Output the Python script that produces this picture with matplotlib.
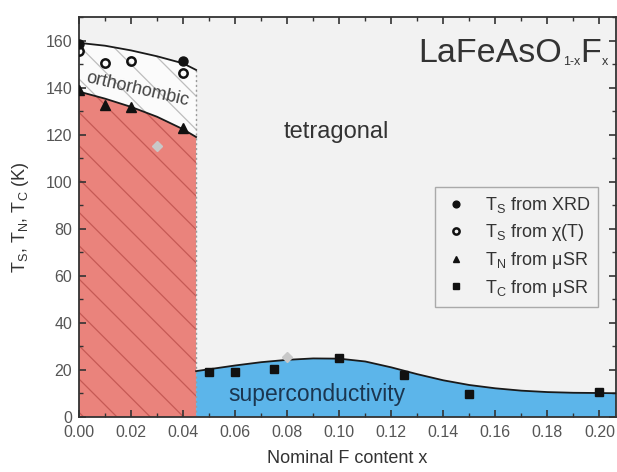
import matplotlib
matplotlib.use("Agg")
import matplotlib.pyplot as plt
from matplotlib.ticker import MultipleLocator, FormatStrFormatter

plt.rcParams['font.family'] = ['Liberation Sans', 'DejaVu Sans']
plt.rcParams['mathtext.fontset'] = 'custom'
plt.rcParams['mathtext.rm'] = 'Liberation Sans'
plt.rcParams['mathtext.it'] = 'Liberation Sans'
plt.rcParams['hatch.linewidth'] = 0.9

# ---- data ----
ts_xrd_x = [0.0, 0.04]
ts_xrd_y = [158.6, 151.5]
ts_chi_x = [0.0, 0.01, 0.02, 0.04]
ts_chi_y = [155.4, 150.5, 151.2, 146.0]
tn_x = [0.0, 0.01, 0.02, 0.04]
tn_y = [138.9, 132.8, 131.8, 122.9]
tc_x = [0.05, 0.06, 0.075, 0.10, 0.125, 0.15, 0.20]
tc_y = [19.3, 19.3, 20.3, 25.1, 17.9, 9.8, 10.8]
gray_x = [0.03, 0.08]
gray_y = [115.0, 25.7]

# guide curves
ts_curve_x = [0.0, 0.01, 0.02, 0.03, 0.04, 0.045]
ts_curve_y = [159.0, 157.8, 155.8, 153.3, 150.3, 147.5]
tn_curve_x = [0.0, 0.01, 0.02, 0.03, 0.04, 0.045]
tn_curve_y = [138.3, 135.3, 131.8, 127.6, 122.3, 119.0]
tc_curve_x = [0.045, 0.05, 0.06, 0.07, 0.08, 0.09, 0.10, 0.11, 0.12, 0.13, 0.14,
              0.15, 0.16, 0.17, 0.18, 0.19, 0.20, 0.2065]
tc_curve_y = [19.5, 20.3, 21.9, 23.3, 24.3, 24.9, 24.8, 23.6, 21.1, 18.2, 15.6,
              13.6, 12.2, 11.2, 10.6, 10.3, 10.2, 10.1]

x_boundary = 0.045

fig = plt.figure(figsize=(6.17, 4.72), dpi=100)
ax = fig.add_axes([0.128, 0.1165, 0.871, 0.8475])
ax.set_facecolor('#f2f2f2')

# red AFM region
ax.fill_between(tn_curve_x, 0, tn_curve_y, facecolor='#ea837c', edgecolor='#c55a55',
                hatch='\\', linewidth=0, zorder=1)
# orthorhombic region
ax.fill_between(ts_curve_x, tn_curve_y, ts_curve_y, facecolor='#fbfbfb', edgecolor='#bdbdbd',
                hatch='\\', linewidth=0, zorder=1)
# superconducting region
ax.fill_between(tc_curve_x, 0, tc_curve_y, facecolor='#5cb5ea', edgecolor='none',
                linewidth=0, zorder=1)

ax.plot([x_boundary, x_boundary], [0, ts_curve_y[-1]], ls=(0, (1.5, 2)), color='#9a9a9a', lw=1.0, zorder=2)

ax.plot(ts_curve_x, ts_curve_y, color='#1a1a1a', lw=1.3, zorder=3)
ax.plot(tn_curve_x, tn_curve_y, color='#1a1a1a', lw=1.3, zorder=3)
ax.plot(tc_curve_x, tc_curve_y, color='#1a1a1a', lw=1.3, zorder=3)

ax.plot(ts_xrd_x, ts_xrd_y, 'o', color='#111111', ms=6.5, zorder=5, label=r'T$_\mathregular{S}$ from XRD')
ax.plot(ts_chi_x, ts_chi_y, 'o', mfc='none', mec='#111111', mew=1.8, ms=6, zorder=5,
        label=r'T$_\mathregular{S}$ from $\chi$(T)')
ax.plot(tn_x, tn_y, '^', color='#111111', ms=6.5, zorder=5, label=r'T$_\mathregular{N}$ from $\mu$SR')
ax.plot(tc_x, tc_y, 's', color='#111111', ms=6, zorder=5, label=r'T$_\mathregular{C}$ from $\mu$SR')
ax.plot(gray_x, gray_y, 'D', color='#c8c8c8', ms=5, zorder=4)

ax.set_xlim(0, 0.2065)
ax.set_ylim(0, 170)
ax.xaxis.set_major_locator(MultipleLocator(0.02))
ax.xaxis.set_minor_locator(MultipleLocator(0.01))
ax.yaxis.set_major_locator(MultipleLocator(20))
ax.yaxis.set_minor_locator(MultipleLocator(10))
ax.xaxis.set_major_formatter(FormatStrFormatter('%.2f'))
ax.tick_params(which='both', direction='in', top=True, right=True, color='#333333')
ax.tick_params(which='major', length=5, width=1.2, labelsize=11.5, labelcolor='#555555')
ax.tick_params(axis='x', which='major', pad=6)
ax.tick_params(axis='y', which='major', pad=5)
ax.tick_params(which='minor', length=3, width=1.0)
for s in ax.spines.values():
    s.set_color('#333333')
    s.set_linewidth(1.3)

ax.set_xlabel('Nominal F content x', fontsize=13, color='#333333', labelpad=7)
ax.set_ylabel(r'T$_\mathregular{S}$, T$_\mathregular{N}$, T$_\mathregular{C}$ (K)', fontsize=13,
              color='#333333', labelpad=10)

# formula label with small subscripts
t1 = ax.text(0.1304, 154.5, 'LaFeAsO', fontsize=24.5, color='#333333', ha='left', va='center', zorder=6)
s1 = ax.annotate('1-x', xy=(1, 0), xycoords=t1, xytext=(0.5, 1), textcoords='offset points',
                 fontsize=9, color='#333333', ha='left', va='bottom', zorder=6)
t2 = ax.annotate('F', xy=(1, 0), xycoords=(s1, t1), xytext=(0.5, 0), textcoords='offset points',
                 fontsize=24.5, color='#333333', ha='left', va='bottom', zorder=6)
ax.annotate('x', xy=(1, 0), xycoords=t2, xytext=(0.5, 1), textcoords='offset points',
            fontsize=9, color='#333333', ha='left', va='bottom', zorder=6)

ax.text(0.0988, 121, 'tetragonal', fontsize=17, color='#333333', ha='center', va='center', zorder=6)
ax.text(0.0225, 139, 'orthorhombic', fontsize=13, color='#444444', ha='center', va='center',
        rotation=-13, zorder=6)
ax.text(0.0913, 9.6, 'superconductivity', fontsize=16.5, color='#1b3650', ha='center', va='center',
        zorder=6)

leg = ax.legend(loc='upper left', bbox_to_anchor=(0.663, 0.575), fontsize=13, frameon=True,
                fancybox=False, edgecolor='#aaaaaa', facecolor='#f2f2f2', framealpha=1,
                markerscale=0.75, handlelength=1.4, handletextpad=0.9, labelspacing=0.38,
                borderpad=0.45, borderaxespad=0)
for t in leg.get_texts():
    t.set_color('#333333')

fig.savefig('out.png', dpi=100, facecolor='white')
